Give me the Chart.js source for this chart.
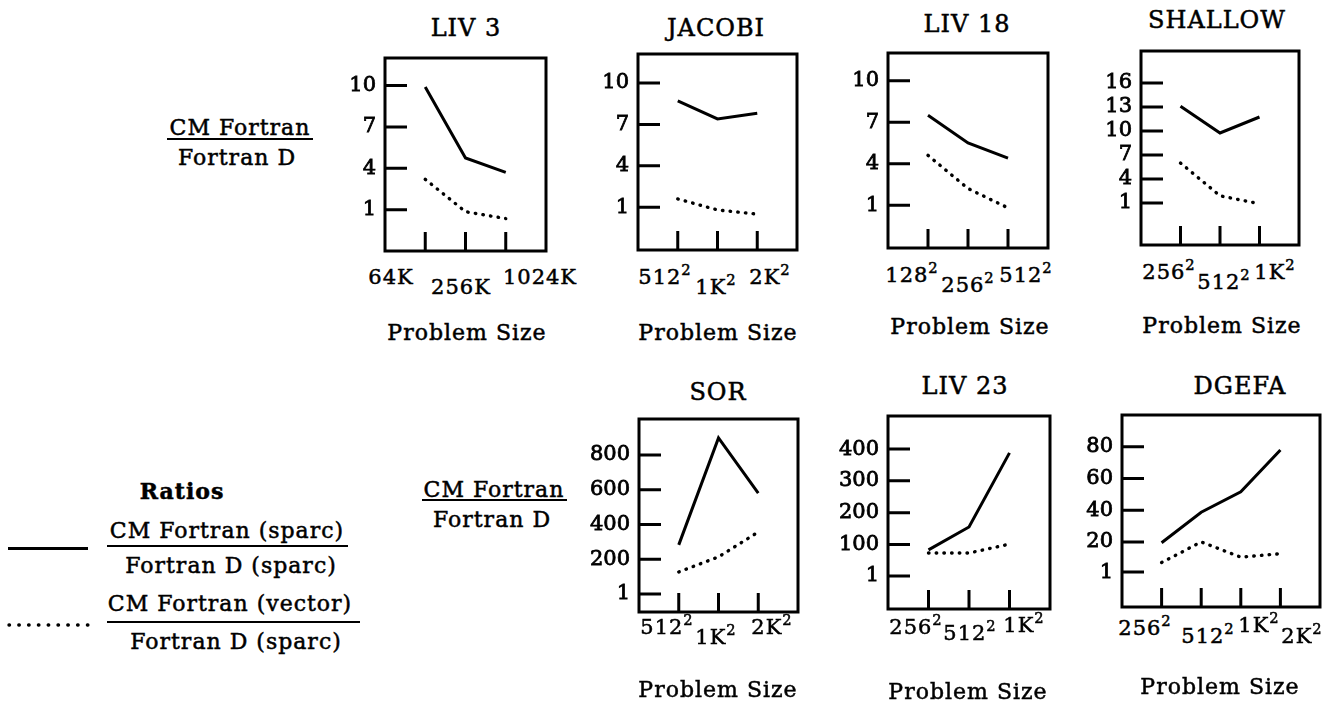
<!DOCTYPE html>
<html lang="en">
<head>
<meta charset="UTF-8" />
<title>CM Fortran / Fortran D</title>
<style>
  html, body { margin: 0; padding: 0; background: #fff; }
  body { width: 1338px; height: 707px; position: relative; overflow: hidden;
         font-family: "DejaVu Serif", serif; color: #000; }
  .t { position: absolute; transform: translate(-50%, -50%); white-space: nowrap;
       line-height: 1; letter-spacing: 1px; -webkit-text-stroke: 0.5px #000; }
  .t sup { font-size: 0.7em; vertical-align: 0.55em; line-height: 0; }
  .panel { position: absolute; }
  .bar { position: absolute; background: #000; }
</style>
</head>
<body>
<script src="https://cdn.jsdelivr.net/npm/chart.js"></script>
<script>
// one entry per panel
const titles = ["LIV 3", "JACOBI", "LIV 18", "SHALLOW", "SOR", "LIV 23", "DGEFA"];
const sizeLabels = [
  ["64K", "256K", "1024K"],
  ["512^2", "1K^2", "2K^2"],
  ["128^2", "256^2", "512^2"],
  ["256^2", "512^2", "1K^2"],
  ["512^2", "1K^2", "2K^2"],
  ["256^2", "512^2", "1K^2"],
  ["256^2", "512^2", "1K^2", "2K^2"],
];
const yTicks = [
  [1, 4, 7, 10],
  [1, 4, 7, 10],
  [1, 4, 7, 10],
  [1, 4, 7, 10, 13, 16],
  [1, 200, 400, 600, 800],
  [1, 100, 200, 300, 400],
  [1, 20, 40, 60, 80],
];
// CM Fortran (sparc) / Fortran D (sparc)
const sparcRatio = [
  [9.9, 4.75, 3.7],
  [8.7, 7.4, 7.8],
  [7.5, 5.5, 4.4],
  [13.1, 9.75, 11.75],
  [283, 898, 581],
  [83, 155, 388],
  [19.5, 38.7, 51.6, 78],
];
// CM Fortran (vector) / Fortran D (sparc)
const vectorRatio = [
  [3.2, 0.85, 0.35],
  [1.6, 0.8, 0.5],
  [4.6, 2.2, 0.8],
  [6.0, 1.9, 0.9],
  [127, 214, 357],
  [73, 73, 101],
  [7, 20, 10.4, 12.6],
];
const yRange = [[-2, 12], [-2.1, 12.1], [-2.1, 12], [-4.25, 20], [-103, 1007], [-103, 504], [-21, 100]];

// page layout (px)
const boxes = [
  [385, 58, 546, 251], [638, 54, 797, 250], [888, 53, 1048, 248], [1141, 51, 1299, 245],
  [639, 419, 798, 612], [888, 416, 1050, 609], [1122, 415, 1320, 607],
];
const titlePos = [[466, 28], [716, 28], [967, 24], [1217, 20], [718, 392], [965, 386], [1240, 386]];
const xLabelPos = [
  [[391, 277], [461, 287], [540, 277]],
  [[665, 277], [716, 287], [770, 277]],
  [[912, 275], [968, 285], [1026, 275]],
  [[1169, 272], [1224, 282], [1275, 272]],
  [[667, 627], [716, 637], [772, 627]],
  [[916, 627], [970, 633], [1024, 625]],
  [[1145, 628], [1208, 636], [1259, 625], [1302, 636]],
];
const problemPos = [[467, 333], [718, 333], [970, 327], [1222, 326], [718, 690], [968, 692], [1220, 687]];
const LW = 70;

function addText(html, x, y, size, extra) {
  const d = document.createElement("div");
  d.className = "t";
  d.style.left = x + "px";
  d.style.top = y + "px";
  d.style.fontSize = size + "px";
  d.innerHTML = html;
  if (extra) Object.assign(d.style, extra);
  document.body.appendChild(d);
  return d;
}
function addBar(x1, x2, y, h) {
  const d = document.createElement("div");
  d.className = "bar";
  d.style.left = x1 + "px";
  d.style.top = y + "px";
  d.style.width = (x2 - x1) + "px";
  d.style.height = (h || 2) + "px";
  document.body.appendChild(d);
}
const sup = (s) => s.replace(/\^(\w+)/, "<sup>$1</sup>");

// frame + inward tick marks
const frame = {
  id: "frame",
  afterDatasetsDraw(chart) {
    const { ctx, chartArea: a, scales: { x, y } } = chart;
    ctx.save();
    ctx.strokeStyle = "#000";
    ctx.lineWidth = 3;
    ctx.strokeRect(a.left, a.top, a.right - a.left, a.bottom - a.top);
    ctx.beginPath();
    y.ticks.forEach((t) => {
      const py = y.getPixelForValue(t.value);
      ctx.moveTo(a.left, py);
      ctx.lineTo(a.left + 22, py);
    });
    const n = chart.data.datasets[0].data.length;
    for (let i = 0; i < n; i++) {
      const px = x.getPixelForValue(i);
      ctx.moveTo(px, a.bottom);
      ctx.lineTo(px, a.bottom - 19);
    }
    ctx.stroke();
    ctx.restore();
  },
};

titles.forEach((title, i) => {
  const [l, t, r, b] = boxes[i];
  const div = document.createElement("div");
  div.className = "panel";
  div.style.left = (l - LW) + "px";
  div.style.top = (t - 2) + "px";
  const cv = document.createElement("canvas");
  cv.width = r - l + LW + 2;
  cv.height = b - t + 4;
  div.appendChild(cv);
  document.body.appendChild(div);

  const n = sparcRatio[i].length;
  new Chart(cv, {
    type: "line",
    data: {
      datasets: [
        {
          label: "CM Fortran (sparc) / Fortran D (sparc)",
          data: sparcRatio[i].map((v, k) => ({ x: k, y: v })),
          borderColor: "#000",
          borderWidth: 3,
          pointRadius: 0,
          tension: 0,
        },
        {
          label: "CM Fortran (vector) / Fortran D (sparc)",
          data: vectorRatio[i].map((v, k) => ({ x: k, y: v })),
          borderColor: "#000",
          borderWidth: 3.4,
          borderDash: [0.5, 7.2],
          borderCapStyle: "round",
          pointRadius: 0,
          tension: 0,
        },
      ],
    },
    options: {
      responsive: false,
      animation: false,
      layout: { padding: { left: 0, top: 2, right: 2, bottom: 2 } },
      plugins: { legend: { display: false }, tooltip: { enabled: false } },
      scales: {
        x: { type: "linear", min: -1, max: n, display: false },
        y: {
          type: "linear",
          min: yRange[i][0],
          max: yRange[i][1],
          grid: { display: false, drawTicks: false },
          border: { display: false },
          ticks: {
            color: "#000",
            padding: 9,
            textStrokeColor: "#000",
            textStrokeWidth: 0.8,
            font: { family: "DejaVu Serif", size: 21 },
          },
          afterBuildTicks: (s) => {
            s.ticks = yTicks[i].map((v) => ({ value: v }));
          },
          afterFit: (s) => {
            s.width = LW;
            s.paddingTop = 0;
            s.paddingBottom = 0;
          },
        },
      },
    },
    plugins: [frame],
  });

  addText(title, titlePos[i][0], titlePos[i][1], 24);
  sizeLabels[i].forEach((lab, k) => {
    addText(sup(lab), xLabelPos[i][k][0], xLabelPos[i][k][1], 21);
  });
  addText("Problem Size", problemPos[i][0], problemPos[i][1], 22);
});

// y-axis caption, top and bottom rows
addText("CM Fortran", 240, 128, 22);
addBar(167, 313, 138, 2);
addText("Fortran D", 237, 158, 22);
addText("CM Fortran", 494, 490, 22);
addBar(422, 567, 499, 2);
addText("Fortran D", 492, 520, 22);

// legend
addText("Ratios", 182, 491, 22, { fontWeight: "bold" });
addBar(8, 88, 547, 3);
addText("CM Fortran (sparc)", 227, 531, 22);
addBar(107, 348, 545, 2);
addText("Fortran D (sparc)", 231, 566, 22);

const dots = document.createElementNS("http://www.w3.org/2000/svg", "svg");
dots.setAttribute("width", "100");
dots.setAttribute("height", "10");
dots.style.position = "absolute";
dots.style.left = "0px";
dots.style.top = "620px";
dots.innerHTML = '<line x1="9" y1="5" x2="88" y2="5" stroke="#000" stroke-width="3.4" stroke-linecap="round" stroke-dasharray="0.5 9.3"/>';
document.body.appendChild(dots);
addText("CM Fortran (vector)", 230, 604, 22);
addBar(107, 360, 621, 2);
addText("Fortran D (sparc)", 236, 642, 22);
</script>
</body>
</html>
